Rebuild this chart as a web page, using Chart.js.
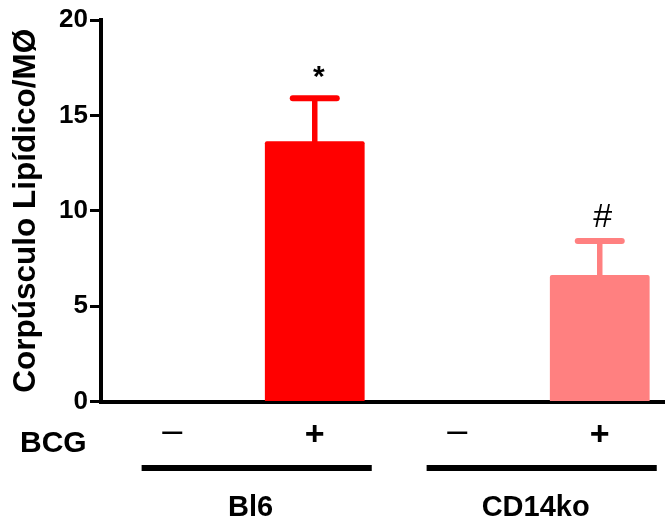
<!DOCTYPE html>
<html><head><meta charset="utf-8">
<script src="https://cdn.jsdelivr.net/npm/chart.js@4"></script>
<style>html,body{margin:0;padding:0;overflow:hidden;background:#fff}#wrap{width:671px;height:523px;position:relative}</style>
</head><body><div id="wrap"><canvas id="c" width="671" height="523"></canvas></div>
<script>
// ---- data ----
const categories = ['–', '+', '–', '+'];          // BCG treatment
const groups = ['Bl6', 'CD14ko'];                  // mouse strain
const groupMembers = [[0, 1], [2, 3]];             // category indices of each group
const means = [0, 13.65, 0, 6.63];
const errors = [0, 2.25, 0, 1.78];                 // upper SEM
const marks = ['', '*', '', '#'];
const barColors = ['#FF0000', '#FF0000', '#FF8080', '#FF8080'];
const yTicks = [0, 5, 10, 15, 20];
const yTitle = 'Corpúsculo Lipídico/MØ';
const rowLabel = 'BCG';

const FONT = '"Liberation Sans", Arial, Helvetica, sans-serif';

const extras = {
  id: 'extras',
  afterDatasetsDraw(chart) {
    const { ctx, scales: { y } } = chart;
    const meta = chart.getDatasetMeta(0);
    ctx.save();
    means.forEach((m, i) => {
      if (!errors[i]) return;
      const bar = meta.data[i];
      const cx = bar.x;
      const top = y.getPixelForValue(m + errors[i]);
      ctx.strokeStyle = barColors[i];
      ctx.lineCap = 'butt';
      ctx.lineWidth = 5.5;
      ctx.beginPath(); ctx.moveTo(cx, bar.y + 2); ctx.lineTo(cx, top); ctx.stroke();
      ctx.lineCap = 'round';
      ctx.lineWidth = 6;
      ctx.beginPath(); ctx.moveTo(cx - 22, top); ctx.lineTo(cx + 22, top); ctx.stroke();
      if (marks[i]) {
        ctx.fillStyle = '#000';
        ctx.textAlign = 'center';
        ctx.textBaseline = 'alphabetic';
        if (marks[i] === '*') {
          ctx.font = 'bold 30px ' + FONT;
          ctx.fillText(marks[i], cx + 4, top - 12.5);
        } else {
          ctx.font = '34px ' + FONT;
          ctx.fillText(marks[i], cx + 3, top - 14);
        }
      }
    });
    ctx.restore();
  },
  afterDraw(chart) {
    const { ctx, scales: { x } } = chart;
    const slot = x.getPixelForValue(1) - x.getPixelForValue(0);
    ctx.save();
    ctx.fillStyle = '#000';
    ctx.textBaseline = 'alphabetic';
    ctx.font = 'bold 30px ' + FONT;
    ctx.textAlign = 'left';
    ctx.fillText(rowLabel, 20, 452);
    groups.forEach((g, gi) => {
      const idx = groupMembers[gi];
      const c0 = x.getPixelForValue(idx[0]);
      const c1 = x.getPixelForValue(idx[idx.length - 1]);
      const x0 = c0 - 0.215 * slot, x1 = c1 + 0.40 * slot;
      ctx.fillRect(x0, 465, x1 - x0, 6);
      ctx.font = 'bold 29px ' + FONT;
      ctx.textAlign = 'center';
      ctx.fillText(g, (c0 + c1) / 2 + 0.05 * slot, 516);
    });
    ctx.restore();
  }
};

new Chart(document.getElementById('c'), {
  type: 'bar',
  data: {
    labels: categories,
    datasets: [{
      data: means,
      backgroundColor: barColors,
      borderWidth: 0,
      borderRadius: 2,
      barPercentage: 0.70,
      categoryPercentage: 1.0
    }]
  },
  options: {
    responsive: false,
    animation: false,
    devicePixelRatio: 1,
    layout: { padding: { top: 20, left: 0, right: 0, bottom: 0 } },
    plugins: { legend: { display: false }, tooltip: { enabled: false } },
    scales: {
      x: {
        offset: true,
        grid: { display: false, drawTicks: false },
        border: { display: true, color: '#000', width: 4 },
        ticks: {
          color: '#000',
          padding: 14,
          font: (ctx) => ctx.index % 2 === 0
            ? { family: FONT, size: 36, weight: 'normal', lineHeight: '33px' }
            : { family: FONT, size: 34, weight: 'bold', lineHeight: '41px' }
        },
        afterFit: (s) => { s.height = 121.5; }
      },
      y: {
        min: 0, max: 20,
        afterBuildTicks: (s) => { s.ticks = yTicks.map(v => ({ value: v })); },
        grid: { display: true, drawOnChartArea: false, drawTicks: true, tickLength: 11, tickWidth: 3, tickColor: '#000' },
        border: { display: true, color: '#000', width: 4 },
        ticks: { color: '#000', padding: 2, font: { family: FONT, size: 26, weight: 'bold' } },
        title: {
          display: true, text: yTitle, color: '#000',
          font: { family: FONT, size: 31.5, weight: 'bold', lineHeight: 1.2 },
          padding: { top: 7, bottom: 0 }
        },
        afterFit: (s) => { s.width = 101; }
      }
    }
  },
  plugins: [extras]
});
</script>
</body></html>
